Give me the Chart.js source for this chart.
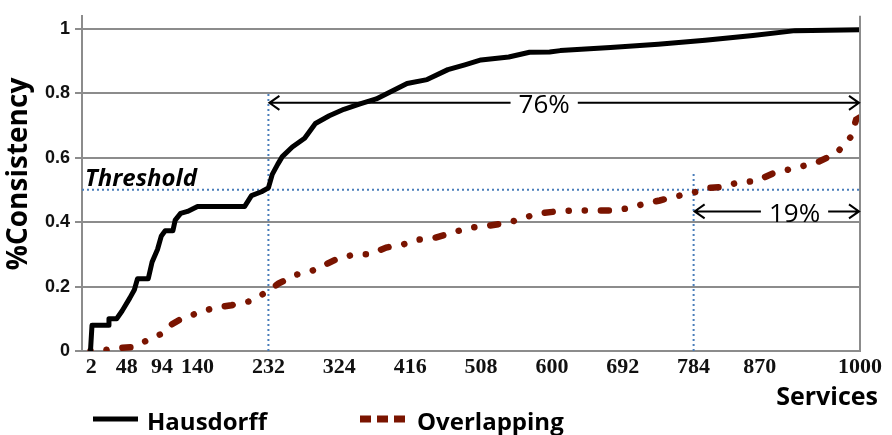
<!DOCTYPE html>
<html lang="en">
<head>
<meta charset="UTF-8">
<title>Hausdorff vs Overlapping consistency</title>
<script src="https://cdn.jsdelivr.net/npm/chart.js"></script>
<style>
  html, body { margin: 0; padding: 0; background: #fff; }
  #wrap { width: 892px; height: 435px; position: relative; }
</style>
</head>
<body>
<div id="wrap"><canvas id="chart"></canvas></div>
<script>
// tick labels
const xTicks = [2, 48, 94, 140, 232, 324, 416, 508, 600, 692, 784, 870, 1000];
const yTicks = [0, 0.2, 0.4, 0.6, 0.8, 1];

// Hausdorff series (services, consistency)
const hausdorffServices = [1, 3, 24, 25, 35, 42, 52, 58, 62, 76, 81, 88, 93, 98, 108, 111, 118, 127, 140, 201,
  210, 223, 232, 237, 244, 250, 263, 279, 293, 311, 330, 351, 372, 392, 412, 438, 465, 487, 508, 544,
  571, 597, 611, 676, 738, 799, 861, 916, 1000];
const hausdorffValues = [0, 0.08, 0.08, 0.10, 0.10, 0.124, 0.164, 0.19, 0.224, 0.224, 0.276, 0.315, 0.357, 0.373, 0.373, 0.406, 0.427, 0.433, 0.448, 0.448,
  0.482, 0.494, 0.506, 0.548, 0.579, 0.603, 0.633, 0.66, 0.706, 0.73, 0.75, 0.767, 0.782, 0.806, 0.83, 0.842, 0.873, 0.888, 0.903, 0.912,
  0.927, 0.928, 0.932, 0.942, 0.952, 0.964, 0.979, 0.994, 0.997];

// Overlapping series
const overlapServices = [1, 13, 34, 56, 72, 92, 106, 119, 137, 160, 184, 209, 231, 245, 267, 288, 305, 323, 345, 363,
  385, 406, 425, 449, 471, 491, 517, 540, 560, 581, 607, 628, 653, 676, 698, 717, 740, 760, 783, 803,
  821, 843, 865, 888, 920, 947, 970, 988, 995, 1000];
const overlapValues = [0, 0, 0.009, 0.012, 0.03, 0.052, 0.082, 0.1, 0.115, 0.133, 0.142, 0.155, 0.185, 0.209, 0.236, 0.248, 0.267, 0.288, 0.3, 0.3,
  0.321, 0.33, 0.345, 0.352, 0.367, 0.382, 0.388, 0.397, 0.409, 0.427, 0.433, 0.436, 0.436, 0.436, 0.442, 0.455, 0.467, 0.479, 0.491, 0.506,
  0.509, 0.524, 0.527, 0.552, 0.57, 0.588, 0.615, 0.664, 0.718, 0.725];

// threshold and marker lines
const threshold = 0.5;
const markerServices = [232, 784];
const markerTops = [0.806, 0.558];

// span arrows
const arrowFrom = [232, 784];
const arrowTo = [1000, 1000];
const arrowLevel = [0.77, 0.433];
const arrowTextAt = [590, 915];
const arrowText = ['76%', '19%'];

const gridColor = '#8c8c8c';
const blue = '#4a7ebb';
const red = '#7a1400';

function pts(xs, ys) { return xs.map((v, i) => ({ x: v, y: ys[i] })); }

function drawArrow(ctx, x1, x2, yy, xm, text) {
  ctx.font = '26px "Open Sans"';
  const w = ctx.measureText(text).width;
  ctx.strokeStyle = '#000';
  ctx.lineWidth = 2;
  ctx.beginPath();
  ctx.moveTo(x1 + 1, yy); ctx.lineTo(xm - w / 2 - 8, yy);
  ctx.moveTo(xm + w / 2 + 8, yy); ctx.lineTo(x2 - 1, yy);
  ctx.moveTo(x1 + 11, yy - 7); ctx.lineTo(x1 + 1, yy); ctx.lineTo(x1 + 11, yy + 7);
  ctx.moveTo(x2 - 11, yy - 7); ctx.lineTo(x2 - 1, yy); ctx.lineTo(x2 - 11, yy + 7);
  ctx.stroke();
  ctx.fillStyle = '#000';
  ctx.textAlign = 'center';
  ctx.textBaseline = 'middle';
  ctx.fillText(text, xm, yy + 3);
}

const extras = {
  id: 'extras',
  afterDatasetsDraw(chart) {
    const { ctx, chartArea: a, scales: { x, y } } = chart;
    ctx.save();
    // right frame line
    ctx.strokeStyle = gridColor;
    ctx.lineWidth = 2;
    ctx.beginPath(); ctx.moveTo(a.right, a.top); ctx.lineTo(a.right, a.bottom); ctx.stroke();

    for (let i = 0; i < arrowText.length; i++) {
      drawArrow(ctx, x.getPixelForValue(arrowFrom[i]), x.getPixelForValue(arrowTo[i]),
        y.getPixelForValue(arrowLevel[i]), x.getPixelForValue(arrowTextAt[i]), arrowText[i]);
    }

    // threshold label
    ctx.fillStyle = '#000';
    ctx.font = 'italic bold 24px "Open Sans"';
    ctx.textAlign = 'left';
    ctx.textBaseline = 'alphabetic';
    ctx.fillText('Threshold', a.left + 3, y.getPixelForValue(threshold) - 4);

    // axis titles
    ctx.font = 'bold 25px "Open Sans"';
    ctx.textAlign = 'right';
    ctx.fillText('Services', 878, 405);
    ctx.save();
    ctx.translate(27, 174);
    ctx.rotate(-Math.PI / 2);
    ctx.font = 'bold 28px "Open Sans"';
    ctx.textAlign = 'center';
    ctx.fillText('%Consistency', 0, 0);
    ctx.restore();

    // legend
    const ds = chart.data.datasets;
    ctx.lineWidth = 5;
    ctx.strokeStyle = ds[0].borderColor;
    ctx.setLineDash([]);
    ctx.beginPath(); ctx.moveTo(93, 419); ctx.lineTo(138, 419); ctx.stroke();
    ctx.lineWidth = 7;
    ctx.strokeStyle = ds[1].borderColor;
    ctx.setLineDash([11, 6]);
    ctx.beginPath(); ctx.moveTo(360, 419); ctx.lineTo(405, 419); ctx.stroke();
    ctx.setLineDash([]);
    ctx.font = 'bold 24px "Open Sans"';
    ctx.textAlign = 'left';
    ctx.fillStyle = '#000';
    ctx.fillText(ds[0].label, 147, 430);
    ctx.fillText(ds[1].label, 417, 430);
    ctx.restore();
  }
};

new Chart(document.getElementById('chart'), {
  type: 'line',
  data: {
    datasets: [
      { label: 'Hausdorff', data: pts(hausdorffServices, hausdorffValues), borderColor: '#000', borderWidth: 5,
        pointRadius: 0, tension: 0, borderJoinStyle: 'round' },
      { label: 'Overlapping', data: pts(overlapServices, overlapValues), borderColor: red, borderWidth: 6.5,
        borderDash: [0.1, 16, 0.1, 16, 8, 16], borderCapStyle: 'round', pointRadius: 0, tension: 0 },
      { label: 'threshold', data: [{ x: -10, y: threshold }, { x: 1000, y: threshold }], borderColor: blue,
        borderWidth: 2, borderDash: [2, 3], pointRadius: 0 },
      { label: 'm1', data: [{ x: markerServices[0], y: 0 }, { x: markerServices[0], y: markerTops[0] }], borderColor: blue,
        borderWidth: 2, borderDash: [2, 3], pointRadius: 0 },
      { label: 'm2', data: [{ x: markerServices[1], y: 0 }, { x: markerServices[1], y: markerTops[1] }], borderColor: blue,
        borderWidth: 2, borderDash: [2, 3], pointRadius: 0 }
    ]
  },
  options: {
    animation: false,
    responsive: true,
    maintainAspectRatio: false,
    layout: { padding: { left: 0, right: 32, top: 7, bottom: 0 } },
    plugins: { legend: { display: false }, tooltip: { enabled: false } },
    scales: {
      x: {
        type: 'linear', min: -10, max: 1000,
        afterBuildTicks: s => { s.ticks = xTicks.map(v => ({ value: v })); },
        afterFit: s => { s.height = 84; },
        grid: { display: false, drawTicks: false },
        border: { display: true, color: gridColor, width: 2 },
        ticks: { autoSkip: false, maxRotation: 0, padding: 3, color: '#111',
          font: { family: '"Liberation Serif"', size: 22, weight: 'bold' }, callback: v => String(v) }
      },
      y: {
        min: 0, max: 1.04,
        afterBuildTicks: s => { s.ticks = yTicks.map(v => ({ value: v })); },
        afterFit: s => { s.width = 82; },
        grid: { color: gridColor, lineWidth: 2, tickLength: 7 },
        border: { color: gridColor, width: 2 },
        ticks: { padding: 5, color: '#111', font: { family: '"Liberation Sans"', size: 18, weight: 'bold' },
          callback: v => String(v) }
      }
    }
  },
  plugins: [extras]
});
</script>
</body>
</html>
